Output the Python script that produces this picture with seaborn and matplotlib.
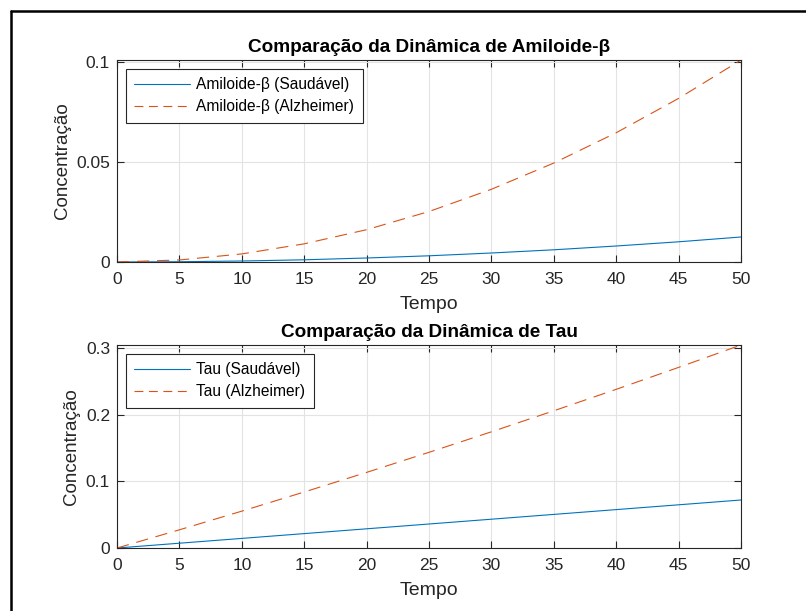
import numpy as np
import pandas as pd
import matplotlib
matplotlib.use("Agg")
import matplotlib.pyplot as plt
from matplotlib.lines import Line2D
import seaborn as sns

tempo = [0, 5, 10, 15, 20, 25, 30, 35, 40, 45, 50]
amiloide_saudavel = [0, 0.000125, 0.0005, 0.0011, 0.002, 0.0031, 0.0045, 0.0061, 0.008, 0.0101, 0.0125]
amiloide_alzheimer = [0, 0.00101, 0.00404, 0.00909, 0.01616, 0.02525, 0.03636, 0.04949, 0.06464, 0.08181, 0.101]
tau_saudavel = [0, 0.0072, 0.0144, 0.0216, 0.0288, 0.036, 0.0432, 0.0504, 0.0576, 0.0648, 0.072]
tau_alzheimer = [0, 0.0273, 0.0553, 0.0840, 0.1134, 0.1435, 0.1743, 0.2058, 0.2380, 0.2709, 0.3045]

x_ticks = [0, 5, 10, 15, 20, 25, 30, 35, 40, 45, 50]
y_ticks_top = [0, 0.05, 0.1]
y_ticks_top_labels = ["0", "0.05", "0.1"]
y_ticks_bot = [0, 0.1, 0.2, 0.3]
y_ticks_bot_labels = ["0", "0.1", "0.2", "0.3"]

sns.set_theme(style="white")
plt.rcParams['font.family'] = ['Liberation Sans', 'DejaVu Sans']

BLUE = "#0072BD"
ORANGE = "#D95319"
AX_COL = "#262626"

fig = plt.figure(figsize=(8.06, 6.11), dpi=100)
fig.patch.set_facecolor("white")

ax1 = fig.add_axes([0.1452, 0.5712, 0.7742, 0.3306])
ax2 = fig.add_axes([0.1452, 0.1031, 0.7742, 0.3323])

df1 = pd.DataFrame({"Tempo": tempo, "s": amiloide_saudavel, "a": amiloide_alzheimer})
df2 = pd.DataFrame({"Tempo": tempo, "s": tau_saudavel, "a": tau_alzheimer})

panels = [
    (ax1, df1, "Amiloide-β (Saudável)", "Amiloide-β (Alzheimer)", "Comparação da Dinâmica de Amiloide-β",
     (0, 0.101), y_ticks_top, y_ticks_top_labels),
    (ax2, df2, "Tau (Saudável)", "Tau (Alzheimer)", "Comparação da Dinâmica de Tau",
     (0, 0.3045), y_ticks_bot, y_ticks_bot_labels),
]

for ax, df, lab_s, lab_a, title, ylim, yt, ytl in panels:
    sns.lineplot(data=df, x="Tempo", y="s", ax=ax, color=BLUE, linewidth=0.8, label=lab_s)
    sns.lineplot(data=df, x="Tempo", y="a", ax=ax, color=ORANGE, linewidth=0.8, label=lab_a)
    ax.lines[1].set_dashes((11, 7))
    ax.set_xlim(0, 50)
    ax.set_ylim(*ylim)
    ax.set_xticks(x_ticks)
    ax.set_xticklabels([str(t) for t in x_ticks])
    ax.set_yticks(yt)
    ax.set_yticklabels(ytl)
    ax.grid(True, color="#e3e3e3", linewidth=0.8)
    ax.set_axisbelow(True)
    for sp in ax.spines.values():
        sp.set_visible(True)
        sp.set_color(AX_COL)
        sp.set_linewidth(0.8)
    ax.tick_params(axis="both", which="both", direction="in", length=5, width=0.8,
                   color=AX_COL, labelcolor=AX_COL, labelsize=12.5, top=True, right=True,
                   bottom=True, left=True)
    ax.tick_params(axis="x", pad=7.5)
    ax.tick_params(axis="y", pad=5)
    ax.set_xlabel("Tempo", fontsize=14, color=AX_COL, labelpad=6)
    ax.set_ylabel("Concentração", fontsize=13.5, color=AX_COL, labelpad=4)
    ax.set_title(title, fontsize=13.7, fontweight="bold", color="black", pad=6)
    leg = ax.legend(loc="upper left", fontsize=11.2, frameon=True, fancybox=False,
                    borderaxespad=0.55, handlelength=3.6, handletextpad=0.4,
                    borderpad=0.55, labelspacing=0.45)
    leg.get_frame().set_edgecolor(AX_COL)
    leg.get_frame().set_linewidth(0.8)
    leg.get_frame().set_alpha(1)
    for t in leg.get_texts():
        t.set_color("black")
    leg.get_lines()[1].set_dashes((8, 5))

# outer frame (top and left edges)
fig.add_artist(Line2D([11 / 806, 1.0], [1 - 11 / 611, 1 - 11 / 611], transform=fig.transFigure,
                      color="black", linewidth=1.8))
fig.add_artist(Line2D([11 / 806, 11 / 806], [0.0, 1 - 11 / 611], transform=fig.transFigure,
                      color="black", linewidth=1.8))

fig.savefig("out.png", dpi=100, facecolor="white")
